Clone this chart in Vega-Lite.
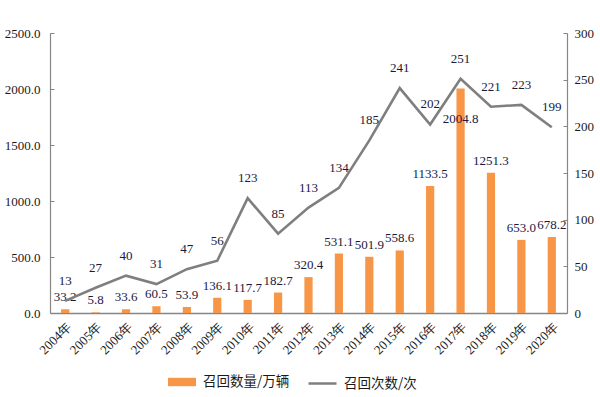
{
  "$schema": "https://vega.github.io/schema/vega-lite/v6.json",
  "width": 517,
  "height": 280,
  "autosize": {"type": "none"},
  "padding": {"left": 50, "top": 33, "right": 33, "bottom": 84},
  "background": "#ffffff",
  "config": {
    "view": {"stroke": null},
    "axis": {
      "labelFont": "Liberation Serif",
      "labelFontSize": 13,
      "labelColor": "#1a1a1a",
      "domainColor": "#868686",
      "tickColor": "#868686",
      "grid": false,
      "titleFontSize": 0
    },
    "legend": {
      "labelFont": "Noto Sans CJK SC",
      "labelFontSize": 13.5,
      "labelColor": "#1a1a1a",
      "orient": "none",
      "title": null
    }
  },
  "data": {
    "values": [
      {"year": "2004年", "qty": 33.2, "cnt": 13},
      {"year": "2005年", "qty": 5.8, "cnt": 27},
      {"year": "2006年", "qty": 33.6, "cnt": 40},
      {"year": "2007年", "qty": 60.5, "cnt": 31},
      {"year": "2008年", "qty": 53.9, "cnt": 47},
      {"year": "2009年", "qty": 136.1, "cnt": 56},
      {"year": "2010年", "qty": 117.7, "cnt": 123},
      {"year": "2011年", "qty": 182.7, "cnt": 85},
      {"year": "2012年", "qty": 320.4, "cnt": 113},
      {"year": "2013年", "qty": 531.1, "cnt": 134},
      {"year": "2014年", "qty": 501.9, "cnt": 185},
      {"year": "2015年", "qty": 558.6, "cnt": 241},
      {"year": "2016年", "qty": 1133.5, "cnt": 202},
      {"year": "2017年", "qty": 2004.8, "cnt": 251},
      {"year": "2018年", "qty": 1251.3, "cnt": 221},
      {"year": "2019年", "qty": 653.0, "cnt": 223},
      {"year": "2020年", "qty": 678.2, "cnt": 199}
    ]
  },
  "encoding": {
    "x": {
      "field": "year",
      "type": "nominal",
      "sort": null,
      "scale": {"paddingInner": 0.73, "paddingOuter": 0.365},
      "axis": {
        "title": null,
        "labelAngle": -45,
        "labelAlign": "right",
        "labelBaseline": "top",
        "labelPadding": 7,
        "ticks": false,
        "domainWidth": 1.5
      }
    }
  },
  "layer": [
    {
      "encoding": {
        "y": {
          "field": "qty",
          "type": "quantitative",
          "scale": {"domain": [0, 2500], "nice": false},
          "axis": {
            "title": null,
            "orient": "left",
            "values": [0, 500, 1000, 1500, 2000, 2500],
            "format": ".1f",
            "tickSize": -4,
            "labelPadding": 14,
            "domainWidth": 1.2
          }
        }
      },
      "layer": [
        {
          "mark": {"type": "bar", "color": "#f79646"},
          "encoding": {
            "fill": {
              "datum": "召回数量/万辆",
              "scale": {"range": ["#f79646"]},
              "legend": {
                "legendX": 118,
                "legendY": 335,
                "symbolType": "M-1,-0.3H1V0.3H-1Z",
                "symbolSize": 784,
                "symbolStrokeWidth": 0,
                "labelOffset": 7
              }
            }
          }
        },
        {
          "transform": [{"filter": "datum.year !== '2017年'"}],
          "mark": {"type": "text", "font": "Liberation Serif", "fontSize": 13, "color": "#1a1a40", "baseline": "middle", "dy": -12},
          "encoding": {
            "text": {"field": "qty", "type": "quantitative", "format": ".1f"}
          }
        },
        {
          "transform": [{"filter": "datum.year === '2017年'"}],
          "mark": {"type": "text", "font": "Liberation Serif", "fontSize": 13, "color": "#1a1a40", "baseline": "middle", "dy": 31},
          "encoding": {
            "text": {"field": "qty", "type": "quantitative", "format": ".1f"}
          }
        }
      ]
    },
    {
      "encoding": {
        "y": {
          "field": "cnt",
          "type": "quantitative",
          "scale": {"domain": [0, 300], "nice": false},
          "axis": {
            "title": null,
            "orient": "right",
            "values": [0, 50, 100, 150, 200, 250, 300],
            "format": "d",
            "tickSize": -4,
            "labelPadding": 11,
            "domainWidth": 1.2
          }
        }
      },
      "layer": [
        {
          "mark": {"type": "line", "strokeWidth": 2.6, "color": "#7f7f7f"},
          "encoding": {
            "stroke": {
              "datum": "召回次数/次",
              "scale": {"range": ["#7f7f7f"]},
              "legend": {
                "legendX": 257,
                "legendY": 335,
                "symbolType": "stroke",
                "symbolSize": 784,
                "symbolStrokeWidth": 2.5,
                "labelOffset": 6
              }
            }
          }
        },
        {
          "mark": {"type": "text", "font": "Liberation Serif", "fontSize": 13, "color": "#1a1a40", "baseline": "middle", "dy": -20},
          "encoding": {
            "text": {"field": "cnt", "type": "quantitative"}
          }
        }
      ]
    }
  ],
  "resolve": {"scale": {"y": "independent", "fill": "independent", "stroke": "independent"}}
}
